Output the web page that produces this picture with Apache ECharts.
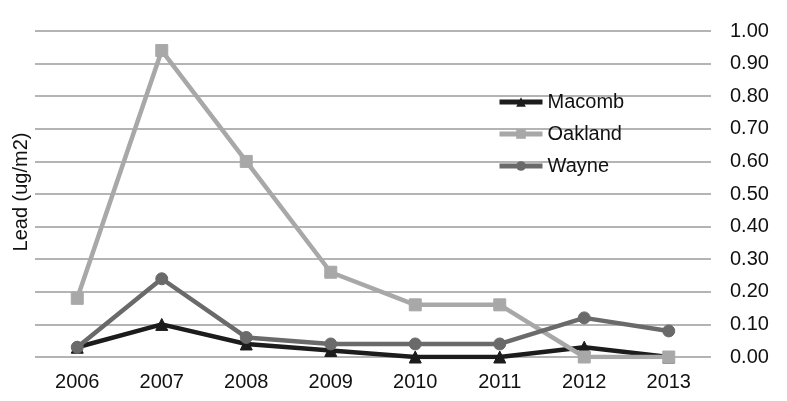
<!DOCTYPE html>
<html><head><meta charset="utf-8">
<script src="https://cdn.jsdelivr.net/npm/echarts@6/dist/echarts.min.js"></script>
<style>html,body{margin:0;padding:0;background:#fff}#c{width:787px;height:401px}</style>
</head><body><div id="c"></div>
<script>
const years = ['2006','2007','2008','2009','2010','2011','2012','2013'];
const macomb = [0.03, 0.10, 0.04, 0.02, 0.00, 0.00, 0.03, 0.00];
const oakland = [0.18, 0.94, 0.60, 0.26, 0.16, 0.16, 0.00, 0.00];
const wayne = [0.03, 0.24, 0.06, 0.04, 0.04, 0.04, 0.12, 0.08];
const yTitle = 'Lead (ug/m2)';

const chart = echarts.init(document.getElementById('c'));
const font = 'Liberation Sans, Arial, sans-serif';
function s(name, data, color, symbol, size) {
  return {name, type:'line', data, symbol, symbolSize:size, z: 3,
    lineStyle:{color, width:4.5}, itemStyle:{color, borderColor:color}, animation:false};
}
chart.setOption({
  animation:false,
  grid:{left:35, right:76, top:31, bottom:44},
  xAxis:{type:'category', data:years, boundaryGap:true,
    axisLine:{show:false}, axisTick:{show:false},
    axisLabel:{color:'#111', fontSize:20, fontFamily:font, margin:15}},
  yAxis:{type:'value', position:'right', min:0, max:1, interval:0.1,
    axisLine:{show:false}, axisTick:{show:false},
    axisLabel:{color:'#111', fontSize:20, fontFamily:font, margin:19, formatter:v=>v.toFixed(2)},
    splitLine:{lineStyle:{color:'#b4b4b4', width:2}}},
  legend:{orient:'vertical', left:492, top:87, itemWidth:43, itemHeight:12, itemGap:12,
    lineStyle:{width:5},
    textStyle:{color:'#111', fontSize:20, fontFamily:font},
    data:['Macomb','Oakland','Wayne']},
  graphic:[{type:'text', x:21, y:192, rotation:Math.PI/2,
    style:{text:yTitle, fill:'#111', fontSize:20, fontFamily:font, textAlign:'center', textVerticalAlign:'middle'}}],
  series:[
    s('Macomb', macomb, '#1c1c1c', 'triangle', 12),
    s('Oakland', oakland, '#a8a8a8', 'rect', 12),
    s('Wayne', wayne, '#6a6a6a', 'circle', 12)
  ]
});
</script></body></html>
